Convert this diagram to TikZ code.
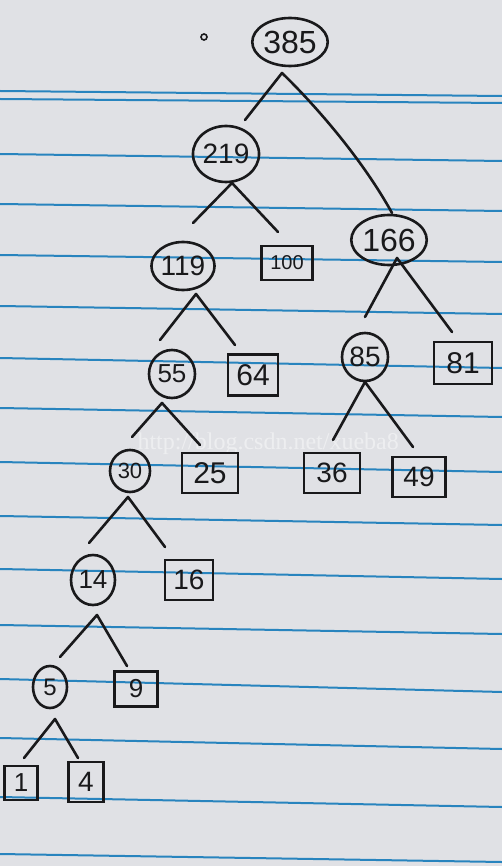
\documentclass[tikz,border=0pt]{standalone}
\usepackage{fontspec}
\setmainfont{Liberation Sans}
\newfontfamily\wmfont{Liberation Serif}
\usetikzlibrary{shapes.geometric}
\definecolor{paper}{RGB}{224,225,229}
\definecolor{rule}{RGB}{40,132,190}
\definecolor{ink}{RGB}{25,25,27}
\newcommand\hwsize[1]{\fontsize{#1}{#1}\selectfont}
\tikzset{
  circ/.style={ellipse, draw=ink, line width=2.6pt, inner sep=0pt, text=ink},
  leaf/.style={rectangle, draw=ink, line width=2.6pt, inner sep=0pt, text=ink},
  edge/.style={draw=ink, line width=2.6pt, line cap=round, line join=round},
  ruling/.style={draw=rule, line width=2pt}
}
\begin{document}
\begin{tikzpicture}[x=1pt,y=-1pt]
\useasboundingbox (0,0) rectangle (502,866);
\fill[paper] (0,0) rectangle (502,866);
% ruled lines of the paper
\foreach \l/\r in {91/96,99/103,154/161,204/211,255/262,306/314,358/368,408/417,462/472,516/525,569/579,625/634,679/692,738/749,797/807,854/862}
  \draw[ruling] (0,\l) -- (502,\r);
% watermark
\node[text=white, opacity=0.45, font=\wmfont\hwsize{24}, anchor=west] (wm) at (134,444) {http://blog.csdn.net/xueba8};
% small dot
\draw[ink, line width=1.6pt] (204,37) circle (3);
% internal nodes
\node[circ, minimum width=64pt, minimum height=48pt, font=\hwsize{32}] (n385) at (290,42) {385};
\node[circ, minimum width=58pt, minimum height=56pt, font=\hwsize{28}] (n219) at (226,154) {219};
\node[circ, minimum width=68pt, minimum height=50pt, font=\hwsize{32}] (n166) at (389,240) {166};
\node[circ, minimum width=62pt, minimum height=48pt, font=\hwsize{28}] (n119) at (183,266) {119};
\node[circ, minimum width=46pt, minimum height=48pt, font=\hwsize{26}] (n55) at (172,374) {55};
\node[circ, minimum width=46pt, minimum height=48pt, font=\hwsize{28}] (n85) at (365,357) {85};
\node[circ, minimum width=40pt, minimum height=42pt, font=\hwsize{22}] (n30) at (130,471) {30};
\node[circ, minimum width=44pt, minimum height=50pt, font=\hwsize{26}] (n14) at (93,580) {14};
\node[circ, minimum width=34pt, minimum height=42pt, font=\hwsize{24}] (n5) at (50,687) {5};
% leaves
\node[leaf, minimum width=51pt, minimum height=34pt, font=\hwsize{20}] (b100) at (287,263) {100};
\node[leaf, minimum width=50pt, minimum height=41pt, font=\hwsize{30}] (b64) at (253,375) {64};
\node[leaf, minimum width=58pt, minimum height=42pt, font=\hwsize{30}] (b81) at (463,363) {81};
\node[leaf, minimum width=56pt, minimum height=40pt, font=\hwsize{30}] (b25) at (210,473) {25};
\node[leaf, minimum width=56pt, minimum height=40pt, font=\hwsize{28}] (b36) at (332,473) {36};
\node[leaf, minimum width=53pt, minimum height=40pt, font=\hwsize{28}] (b49) at (419,477) {49};
\node[leaf, minimum width=48pt, minimum height=40pt, font=\hwsize{28}] (b16) at (189,580) {16};
\node[leaf, minimum width=43pt, minimum height=35pt, font=\hwsize{26}] (b9) at (136,689) {9};
\node[leaf, minimum width=33pt, minimum height=34pt, font=\hwsize{26}] (b1) at (21,783) {1};
\node[leaf, minimum width=35pt, minimum height=40pt, font=\hwsize{28}] (b4) at (86,782) {4};
% connector points
\coordinate (a385) at (282,73);  \coordinate (l385) at (245,120); \coordinate (r385) at (392,213);
\coordinate (a219) at (232,183); \coordinate (l219) at (193,223); \coordinate (r219) at (278,232);
\coordinate (a166) at (397,258); \coordinate (l166) at (365,317); \coordinate (r166) at (452,332);
\coordinate (a119) at (196,294); \coordinate (l119) at (160,340); \coordinate (r119) at (235,345);
\coordinate (a55) at (162,403);  \coordinate (l55) at (132,437);  \coordinate (r55) at (200,445);
\coordinate (a85) at (365,382);  \coordinate (l85) at (333,440);  \coordinate (r85) at (413,447);
\coordinate (a30) at (128,497);  \coordinate (l30) at (89,543);   \coordinate (r30) at (165,547);
\coordinate (a14) at (97,615);   \coordinate (l14) at (60,657);   \coordinate (r14) at (127,666);
\coordinate (a5) at (55,719);    \coordinate (l5) at (24,758);    \coordinate (r5) at (78,758);
% connectors
\draw[edge] (l385) -- (a385) .. controls (310,100) and (360,155) .. (r385);
\draw[edge] (l219) -- (a219) -- (r219);
\draw[edge] (l166) -- (a166) -- (r166);
\draw[edge] (l119) -- (a119) -- (r119);
\draw[edge] (l55) -- (a55) -- (r55);
\draw[edge] (l85) -- (a85) -- (r85);
\draw[edge] (l30) -- (a30) -- (r30);
\draw[edge] (l14) -- (a14) -- (r14);
\draw[edge] (l5) -- (a5) -- (r5);
\end{tikzpicture}
\end{document}
